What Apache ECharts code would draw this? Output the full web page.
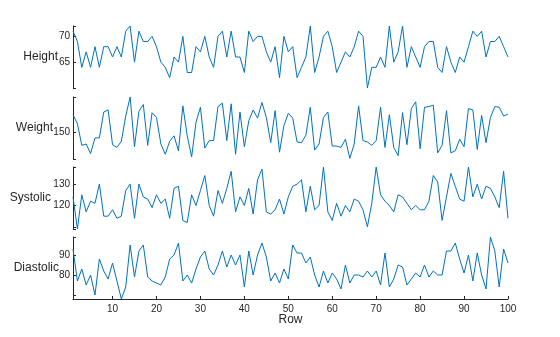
<!DOCTYPE html>
<html><head><meta charset="utf-8">
<script src="https://cdn.jsdelivr.net/npm/echarts@6/dist/echarts.min.js"></script>
<style>html,body{margin:0;padding:0;background:#fff}#c{width:560px;height:337px}</style>
</head><body><div id="c"></div><script>
const height = [71,69,64,67,64,68,64,68,68,66, 68,66,71,72,65,71,69,69,70,68,
  65,64,62,66,65,70,63,63,68,67, 70,66,64,70,71,66,71,66,66,63,
  71,69,70,70,67,65,68,62,70,67, 68,62,64,66,72,63,66,70,71,68,
  63,65,67,66,68,71,70,60,64,64, 66,64,72,65,67,72,64,68,66,64,
  68,69,69,64,63,68,65,63,66,65, 68,71,70,71,66,69,69,70,68,66];
const weight = [176,163,131,133,119,142,142,180,183,132, 128,137,174,202,129,181,191,131,179,172,
  133,118,137,145,123,189,145,114,165,187, 127,138,138,188,193,138,192,118,180,129,
  167,183,171,194,172,135,182,121,160,178, 171,136,135,146,187,124,133,172,180,130,
  130,128,140,112,133,189,138,136,131,138, 187,128,176,128,116,179,132,185,195,126,
  187,188,190,120,131,182,120,123,140,129, 185,183,125,175,135,172,188,187,174,177];
const systolic = [124,109,125,117,122,121,130,115,115,118, 114,115,127,130,114,130,124,123,119,125,
  121,123,114,128,129,113,112,125,120,127, 134,120,115,127,121,128,136,117,124,120,
  128,116,132,137,117,116,118,123,116,124, 129,130,132,117,129,118,120,138,117,113,
  121,115,120,117,123,122,118,110,121,138, 125,122,120,117,125,124,121,118,120,118,
  118,122,134,131,113,124,135,129,123,122, 138,124,130,123,129,128,124,119,136,114];
const diastolic = [93,77,83,75,80,70,88,82,78,86, 77,68,74,95,79,92,95,79,77,76,
  75,79,88,90,96,77,80,76,83,89, 92,83,80,85,92,84,90,85,90,74,
  92,80,90,96,89,77,81,76,83,78, 95,91,91,86,89,80,74,82,76,81,
  78,73,85,76,80,80,79,82,79,82, 75,91,74,78,85,84,75,78,81,79,
  85,79,82,80,80,92,92,96,88,81, 90,77,91,80,73,99,92,74,93,86];

const panelNames = ['Height', 'Weight', 'Systolic', 'Diastolic'];
const panelData = [height, weight, systolic, diastolic];
const yLimits = [[60, 72], [111, 202], [109, 138], [68, 99]];
const yTickLabels = [[65, 70], [150], [120, 130], [80, 90]];
const yTickMarks = [[60, 65, 70, 72], [111, 150, 202], [109, 110, 120, 130, 138], [68, 70, 80, 90, 99]];
const xTickLabels = [10, 20, 30, 40, 50, 60, 70, 80, 90, 100];
const xLabel = 'Row';

const gridTops = [26, 97, 167, 237];
const nameGaps = [15, 20, 22, 14];
const axisColor = '#262626';
const font = "'Liberation Sans', Arial, sans-serif";

const chart = echarts.init(document.getElementById('c'), null, {renderer: 'canvas'});
const grids = [], xAxes = [], yAxes = [], series = [];
panelData.forEach((vals, i) => {
  const last = i === panelData.length - 1;
  grids.push({left: 73, right: 52, top: gridTops[i], height: 62, containLabel: false});
  xAxes.push({
    type: 'value', gridIndex: i, min: 1, max: vals.length,
    show: last,
    name: last ? xLabel : '', nameLocation: 'middle', nameGap: 15, nameMoveOverlap: false,
    nameTextStyle: {color: axisColor, fontSize: 12, fontFamily: font},
    axisLine: {show: true, onZero: false, lineStyle: {color: axisColor, width: 1}},
    axisTick: {show: true, inside: true, length: 3, customValues: xTickLabels, lineStyle: {color: axisColor}},
    axisLabel: {show: true, customValues: xTickLabels, color: axisColor, fontSize: 10, fontFamily: font, margin: 5},
    splitLine: {show: false}
  });
  yAxes.push({
    type: 'value', gridIndex: i, min: yLimits[i][0], max: yLimits[i][1],
    name: panelNames[i], nameLocation: 'middle', nameRotate: 0, nameGap: nameGaps[i], nameMoveOverlap: false,
    nameTextStyle: {color: axisColor, fontSize: 12, fontFamily: font, align: 'right', verticalAlign: 'middle'},
    axisLine: {show: true, lineStyle: {color: axisColor, width: 1}},
    axisTick: {show: true, inside: true, length: 3, customValues: yTickMarks[i], lineStyle: {color: axisColor}},
    axisLabel: {show: true, customValues: yTickLabels[i], color: axisColor, fontSize: 10, fontFamily: font, margin: 3},
    splitLine: {show: false}
  });
  series.push({
    type: 'line', xAxisIndex: i, yAxisIndex: i,
    data: vals.map((v, k) => [k + 1, v]),
    symbol: 'none', silent: true, animation: false,
    lineStyle: {color: '#0072BD', width: 1}
  });
});

chart.setOption({
  animation: false,
  backgroundColor: '#fff',
  grid: grids, xAxis: xAxes, yAxis: yAxes, series: series
});
</script></body></html>
